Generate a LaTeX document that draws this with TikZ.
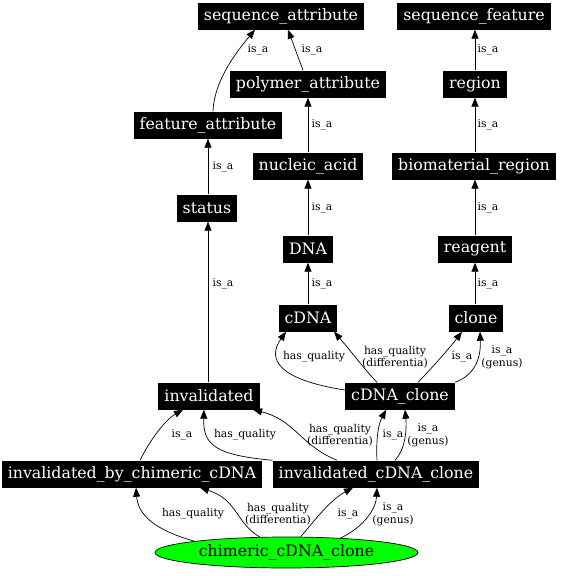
\documentclass[tikz,border=0pt]{standalone}
\usepackage{fontspec}
\setmainfont{DejaVu Serif}
\usetikzlibrary{arrows.meta,shapes.geometric}
\definecolor{chgreen}{RGB}{0,255,0}
\begin{document}
\begin{tikzpicture}[x=1pt,y=-1pt,
  box/.style={fill=black,text=white,font=\fontsize{15.8}{18}\selectfont,minimum height=27pt,inner xsep=6pt,inner ysep=0pt},
  lbl/.style={font=\fontsize{10.8}{12.5}\selectfont,align=center,inner sep=0pt},
  edge/.style={line width=0.7pt,-{Triangle[length=9pt,width=7pt]}}]
\useasboundingbox (0,0) rectangle (561,576);
% nodes
\node[box] (sa) at (281,16) {sequence\_attribute};
\node[box] (sf) at (474,16) {sequence\_feature};
\node[box] (pa) at (308,84) {polymer\_attribute};
\node[box] (rg) at (475,84) {region};
\node[box] (fa) at (208,125) {feature\_attribute};
\node[box] (na) at (308,166) {nucleic\_acid};
\node[box] (br) at (474,166) {biomaterial\_region};
\node[box] (st) at (207,208) {status};
\node[box] (dna) at (308,249) {DNA};
\node[box] (re) at (475,249) {reagent};
\node[box] (cdna) at (308,318) {cDNA};
\node[box] (cl) at (476,318) {clone};
\node[box] (inv) at (209,396) {invalidated};
\node[box] (cc) at (400,396) {cDNA\_clone};
\node[box] (ibc) at (132,474) {invalidated\_by\_chimeric\_cDNA};
\node[box] (icc) at (376,474) {invalidated\_cDNA\_clone};
\node[ellipse,draw=black,fill=chgreen,line width=0.7pt,minimum width=263pt,minimum height=31pt,inner sep=0pt,font=\fontsize{15.8}{18}\selectfont] (ch) at (286.5,552.5) {chimeric\_cDNA\_clone};
% edges
\draw[edge] ([xshift=5pt]fa.north) .. controls (214,80) and (238,50) .. ([xshift=-26pt]sa.south);
\draw[edge] ([xshift=-5pt]pa.north) -- ([xshift=7pt]sa.south);
\draw[edge] (rg) -- (rg |- sf.south);
\draw[edge] (na) -- (pa);
\draw[edge] (br.north -| rg) -- (rg);
\draw[edge] (st.north -| fa) -- (fa);
\draw[edge] (dna) -- (na);
\draw[edge] (re.north -| rg) -- (rg |- br.south);
\draw[edge] (cdna) -- (dna);
\draw[edge] (cl.north -| rg) -- (rg |- re.south);
\draw[edge] (inv.north -| fa) -- (fa |- st.south);
\draw[edge] ([yshift=6pt]cc.west) .. controls (280,380) and (266,360) .. ([xshift=-22pt]cdna.south);
\draw[edge] ([xshift=-23pt]cc.north) .. controls (365,370) and (350,350) .. ([xshift=26pt]cdna.south);
\draw[edge] ([xshift=18pt]cc.north) .. controls (430,370) and (448,350) .. ([xshift=-14pt]cl.south);
\draw[edge] (cc.north east) .. controls (475,375) and (481,358) .. ([xshift=4pt]cl.south);
\draw[edge] (icc.north west) .. controls (215,455) and (203,445) .. ([xshift=-5pt]inv.south);
\draw[edge] ([xshift=-39pt]icc.north) .. controls (300,445) and (295,420) .. ([xshift=44pt]inv.south);
\draw[edge] ([xshift=1pt]icc.north) .. controls (376,440) and (378,425) .. ([xshift=-14pt]cc.south);
\draw[edge] ([xshift=19pt]icc.north) .. controls (405,450) and (407,430) .. ([xshift=5pt]cc.south);
\draw[edge] ([xshift=8pt]ibc.north) .. controls (150,440) and (165,420) .. ([xshift=-26pt]inv.south);
\draw[edge] (ch.173.5) .. controls (155,530) and (138,515) .. ([xshift=4pt]ibc.south);
\draw[edge] (ch.150.2) .. controls (235,522) and (238,500) .. ([xshift=68pt]ibc.south);
\draw[edge] (ch.48.8) .. controls (315,520) and (330,500) .. ([xshift=-23pt]icc.south);
\draw[edge] (ch.15.5) .. controls (362,528) and (376,510) .. ([xshift=1pt]icc.south);
% labels
\node[lbl] (l1) at (258,50) {is\_a};
\node[lbl] (l2) at (312,50) {is\_a};
\node[lbl] (l3) at (488,50) {is\_a};
\node[lbl] (l4) at (322,125) {is\_a};
\node[lbl] (l5) at (488,125) {is\_a};
\node[lbl] (l6) at (223,167) {is\_a};
\node[lbl] (l7) at (322,208) {is\_a};
\node[lbl] (l8) at (488,208) {is\_a};
\node[lbl] (l9) at (223,284) {is\_a};
\node[lbl] (l10) at (322,284) {is\_a};
\node[lbl] (l11) at (488,284) {is\_a};
\node[lbl] (l12) at (314,357) {has\_quality};
\node[lbl] (l13) at (395,357) {has\_quality\\(differentia)};
\node[lbl] (l14) at (462,357) {is\_a};
\node[lbl] (l15) at (502,357) {is\_a\\(genus)};
\node[lbl] (l16) at (182,435) {is\_a};
\node[lbl] (l17) at (245,435) {has\_quality};
\node[lbl] (l18) at (340,435) {has\_quality\\(differentia)};
\node[lbl] (l19) at (393,435) {is\_a};
\node[lbl] (l20) at (428,435) {is\_a\\(genus)};
\node[lbl] (l21) at (193,514) {has\_quality};
\node[lbl] (l22) at (278,514) {has\_quality\\(differentia)};
\node[lbl] (l23) at (348,514) {is\_a};
\node[lbl] (l24) at (393,514) {is\_a\\(genus)};
\end{tikzpicture}
\end{document}
